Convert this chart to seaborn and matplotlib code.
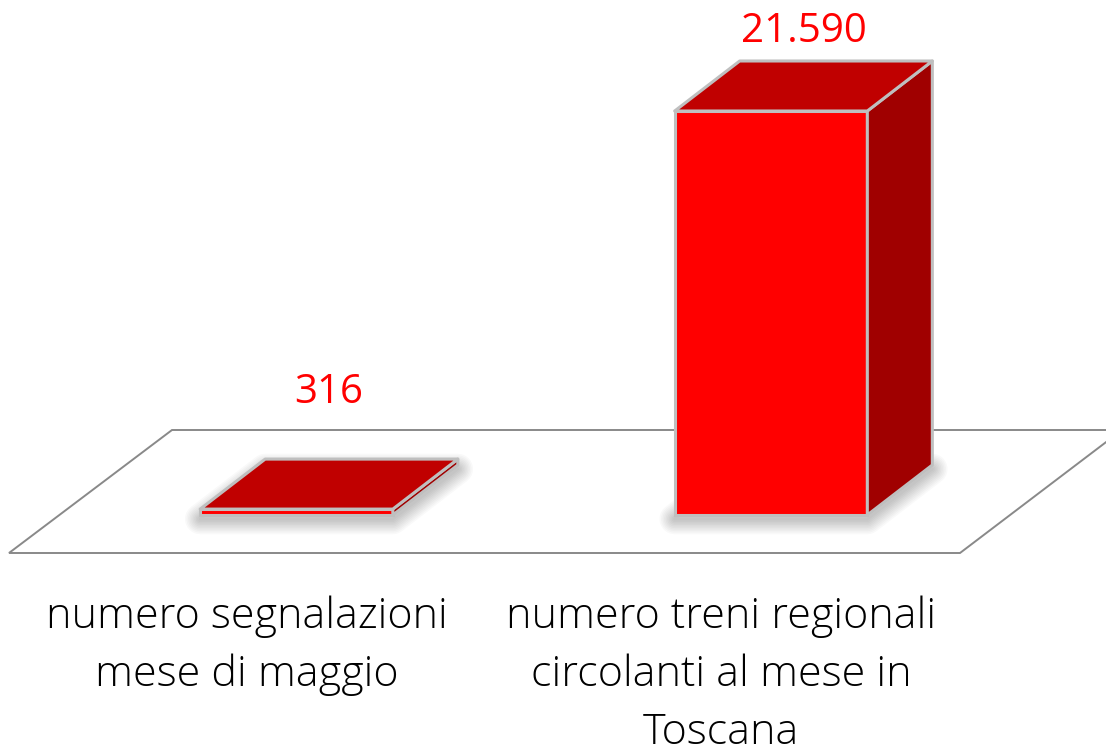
import numpy as np
import seaborn as sns
import matplotlib.pyplot as plt
from matplotlib.patches import Polygon

# data
categories = ["numero segnalazioni\nmese di maggio",
              "numero treni regionali\ncircolanti al mese in\nToscana"]
values = [316, 21590]
value_labels = ["316", "21.590"]
label_gap_px = [56, 19]   # distance of the value label above the box

front_color = "#FF0000"
top_color = "#C00000"
side_color = "#A00000"
edge_color = "#BFBFBF"
floor_color = "#898989"

sns.set_theme(style="white")
plt.rcParams['font.family'] = ['Open Sans', 'DejaVu Sans']

fig = plt.figure(figsize=(11.06, 7.49), dpi=100)
ax = fig.add_axes([0, 0, 1, 1])

sns.barplot(x=categories, y=values, width=0.406, color=front_color, saturation=1,
            edgecolor=edge_color, linewidth=2.2, ax=ax, zorder=3)

# pixel scale of the axes
px_x = 1 / 474.5
px_y = 53.44
ax.set_xlim(-296.5 * px_x, (1106 - 296.5) * px_x)
ax.set_ylim(-(749 - 515) * px_y, 515 * px_y)
ax.axis('off')

# depth of the 3d boxes
dx = 65 * px_x
dy = 50 * px_y

# floor of the plot area
fy0 = -38 * px_y
fy1 = 85 * px_y
floor = [((9 - 296.5) * px_x, fy0), ((960 - 296.5) * px_x, fy0),
         ((1122 - 296.5) * px_x, fy1), ((172 - 296.5) * px_x, fy1)]
ax.add_patch(Polygon(floor, closed=True, facecolor="white", edgecolor=floor_color,
                     lw=1.4, zorder=1))

bars = [p for p in ax.patches if p.get_zorder() == 3]
for i, bar in enumerate(bars):
    x0 = bar.get_x()
    x1 = x0 + bar.get_width()
    h = bar.get_height()

    # soft shadow under the box
    sy = -4 * px_y
    base = [(x0, sy), (x1, sy), (x1 + dx, dy + sy), (x0 + dx, dy + sy)]
    for lw in np.linspace(22, 2, 10):
        ax.add_patch(Polygon(base, closed=True, facecolor="none", edgecolor="#000000",
                             lw=lw, alpha=0.025, joinstyle="round", zorder=2))

    top = [(x0, h), (x1, h), (x1 + dx, h + dy), (x0 + dx, h + dy)]
    side = [(x1, 0), (x1 + dx, dy), (x1 + dx, h + dy), (x1, h)]
    ax.add_patch(Polygon(side, closed=True, facecolor=side_color, edgecolor=edge_color,
                         lw=2.2, joinstyle="round", zorder=4))
    ax.add_patch(Polygon(top, closed=True, facecolor=top_color, edgecolor=edge_color,
                         lw=2.2, joinstyle="round", zorder=4))

    ax.annotate(value_labels[i], xy=(x0 + bar.get_width() / 2 + dx / 2, h + dy),
                xytext=(0, label_gap_px[i] * 0.72), textcoords="offset points",
                ha="center", va="baseline", fontsize=29, color=front_color, zorder=5)

    ax.text(x0 + bar.get_width() / 2 - 0.105, -(596 - 515) * px_y, categories[i],
            ha="center", va="top", multialignment="center", fontsize=31,
            fontweight="light", linespacing=1.47, color="black")

fig.savefig("out.png", dpi=100)
